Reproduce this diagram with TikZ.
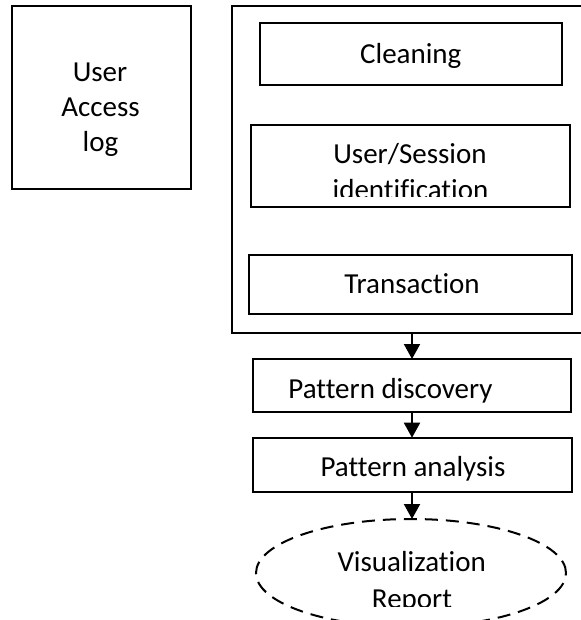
\documentclass[tikz,border=0pt]{standalone}
\usepackage{fontspec}
\setmainfont{Carlito}[Ligatures={CommonOff,ContextualOff}]
\usetikzlibrary{arrows.meta,shapes.geometric}
\tikzset{
  box/.style={draw, line width=2pt, inner sep=0pt, outer sep=0pt},
  lbl/.style={anchor=base, inner sep=0pt, font=\fontsize{29}{35}\selectfont},
  arr/.style={line width=2pt, -{Triangle[width=16pt,length=15pt]}},
  dashell/.style={draw, ellipse, line width=2pt, dash pattern=on 13pt off 8pt, inner sep=0pt, outer sep=0pt}
}
\begin{document}
\begin{tikzpicture}[x=1pt,y=-1pt]
\useasboundingbox (0,0) rectangle (580,620);
% User access log
\node[box, minimum width=179pt, minimum height=183pt] (log) at (101.5,97.5) {};
\node[lbl] (logA) at (100,82) {User};
\node[lbl] (logB) at (100.5,117) {Access};
\node[lbl] (logC) at (100.5,152) {log};
% preprocessing container (right edge lies beyond the picture)
\node[box, minimum width=370pt, minimum height=326pt] (cont) at (416.5,169.5) {};
\node[box, minimum width=301.7pt, minimum height=62pt] (clean) at (410.85,54) {};
\node[lbl] (cleanT) at (410.8,63.3) {Cleaning};
\node[box, minimum width=319.3pt, minimum height=82pt] (sess) at (410.35,166) {};
\node[lbl] (sessA) at (410,163.3) {User/Session};
\begin{scope}
  \clip (250,125) rectangle (570,196.7);
  \node[lbl] (sessB) at (410.5,200) {identification};
\end{scope}
\node[box, minimum width=322.7pt, minimum height=59.3pt] (trans) at (410.35,284.65) {};
\node[lbl] (transT) at (412,293.3) {Transaction};
% pattern boxes
\node[box, minimum width=318.3pt, minimum height=53pt] (pd) at (411.85,385.5) {};
\node[lbl] (pdT) at (390.5,398.3) {Pattern discovery};
\node[box, minimum width=319pt, minimum height=54.3pt] (pa) at (412.2,464.85) {};
\node[lbl] (paT) at (413,476.7) {Pattern analysis};
% visualization ellipse
\node[dashell, minimum width=310pt, minimum height=108pt] (vis) at (411,573) {};
\node[lbl] (visA) at (411.7,571.7) {Visualization};
\begin{scope}
  \clip (300,580) rectangle (520,606.5);
  \node[lbl] (visB) at (412,608.5) {Report};
\end{scope}
% arrows
\coordinate (a1) at (412,332.7);
\draw[arr] (a1) -- (a1 |- pd.north);
\coordinate (a2) at (412,412);
\draw[arr] (a2) -- (a2 |- pa.north);
\coordinate (a3) at (412,492);
\draw[arr] (a3) -- (a3 |- vis.north);
\end{tikzpicture}
\end{document}
